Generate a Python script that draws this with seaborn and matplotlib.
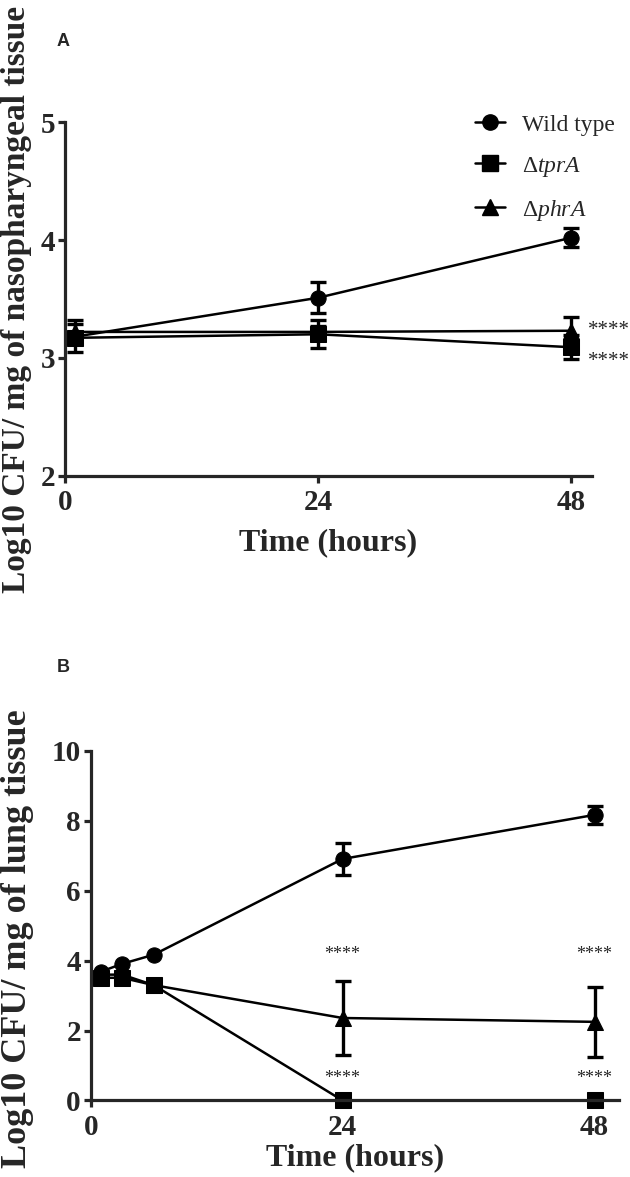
import numpy as np
import pandas as pd
import matplotlib
matplotlib.use("Agg")
import matplotlib.pyplot as plt
from matplotlib.lines import Line2D
import seaborn as sns

# ---- data: panel A (nasopharynx) ----
strains = ["Wild type", "tprA", "phrA"]
time_a = [1, 24, 48]
wt_a = [3.18, 3.51, 4.02]
wt_a_sd = [0.00, 0.13, 0.08]
tpr_a = [3.17, 3.20, 3.09]
tpr_a_sd = [0.12, 0.12, 0.10]
phr_a = [3.22, 3.22, 3.23]
phr_a_sd = [0.10, 0.05, 0.12]

# ---- data: panel B (lung) ----
time_b = [1, 3, 6, 24, 48]
wt_b = [3.69, 3.91, 4.17, 6.91, 8.17]
wt_b_sd = [0.0, 0.0, 0.0, 0.46, 0.26]
tpr_b = [3.51, 3.51, 3.30, 0.0, 0.0]
tpr_b_sd = [0.0, 0.0, 0.0, 0.0, 0.0]
phr_b = [3.60, 3.60, 3.30, 2.36, 2.25]
phr_b_sd = [0.0, 0.0, 0.0, 1.06, 1.00]

legend_labels = ["Wild type", "Δ$\\mathit{tprA}$", "Δ$\\mathit{phrA}$"]
marker_map = {"Wild type": "o", "tprA": "s", "phrA": "^"}

sns.set_style("ticks")
plt.rcParams["font.family"] = ["Liberation Serif", "DejaVu Serif"]
plt.rcParams["mathtext.fontset"] = "custom"
plt.rcParams["mathtext.rm"] = "Liberation Serif"
plt.rcParams["mathtext.it"] = "Liberation Serif:italic"


def long_frame(t, series):
    rows = []
    for name, vals, sds in series:
        for x, y, s in zip(t, vals, sds):
            rows.append({"time": x, "cfu": y, "sd": s, "strain": name})
    return pd.DataFrame(rows)


def draw_panel(ax, df):
    sns.lineplot(data=df, x="time", y="cfu", style="strain", markers=marker_map,
                 dashes=False, color="black", linewidth=1.8, markersize=11,
                 markeredgecolor="black", errorbar=None, legend=False, ax=ax)
    for line in ax.lines:
        line.set_clip_on(False)
    for name in strains:
        d = df[(df["strain"] == name) & (df["sd"] > 0)]
        ax.errorbar(d["time"], d["cfu"], yerr=d["sd"], fmt="none", ecolor="black",
                    elinewidth=2.4, capsize=5.5, capthick=2.4, clip_on=False)
    sns.despine(ax=ax)
    for sp in ["left", "bottom"]:
        ax.spines[sp].set_linewidth(2.3)
    ax.tick_params(axis="both", width=2.3, length=5, labelsize=21)
    ax.tick_params(axis="y", pad=2)
    ax.tick_params(axis="x", pad=5)
    for lab in ax.get_xticklabels() + ax.get_yticklabels():
        lab.set_fontweight("bold")


fig = plt.figure(figsize=(6.3, 11.77), dpi=100)

# Panel A
ax1 = fig.add_axes([0.103, 0.596, 0.837, 0.300])
df_a = long_frame(time_a, [("Wild type", wt_a, wt_a_sd), ("tprA", tpr_a, tpr_a_sd),
                           ("phrA", phr_a, phr_a_sd)])
draw_panel(ax1, df_a)
ax1.set_xlim(0, 50)
ax1.set_ylim(2, 5)
ax1.set_xticks([0, 24, 48])
ax1.set_yticks([2, 3, 4, 5])
ax1.set_xlabel("Time (hours)", fontsize=23, fontweight="bold")
ax1.set_ylabel("Log10 CFU/ mg of nasopharyngeal tissue", fontsize=24, fontweight="bold")
ax1.yaxis.set_label_coords(-0.063, 0.50)
ax1.xaxis.set_label_coords(0.5, -0.15)
ax1.text(49.6, 3.19, "****", fontsize=15, ha="left", va="baseline")
ax1.text(49.6, 2.93, "****", fontsize=15, ha="left", va="baseline")

handles = [Line2D([], [], color="black", linewidth=1.8, marker=marker_map[s],
                  markersize=11) for s in strains]
ax1.legend(handles, legend_labels, frameon=False, fontsize=17, loc="upper left",
           bbox_to_anchor=(0.736, 0.913), bbox_transform=fig.transFigure,
           borderpad=0, handlelength=1.25, handletextpad=0.7, labelspacing=0.8)
fig.text(0.100, 0.965, "A", fontsize=13, fontweight="bold",
         family="Liberation Sans", ha="center", va="center")

# Panel B
ax2 = fig.add_axes([0.144, 0.065, 0.838, 0.297])
df_b = long_frame(time_b, [("Wild type", wt_b, wt_b_sd), ("tprA", tpr_b, tpr_b_sd),
                           ("phrA", phr_b, phr_b_sd)])
draw_panel(ax2, df_b)
ax2.set_xlim(0, 50.3)
ax2.set_ylim(0, 10)
ax2.set_xticks([0, 24, 48])
ax2.set_yticks([0, 2, 4, 6, 8, 10])
ax2.set_xlabel("Time (hours)", fontsize=23, fontweight="bold")
ax2.set_ylabel("Log10 CFU/ mg of lung tissue", fontsize=26, fontweight="bold")
ax2.yaxis.set_label_coords(-0.108, 0.463)
ax2.xaxis.set_label_coords(0.5, -0.122)
for x in [24, 48]:
    ax2.text(x, 4.06, "****", fontsize=13, ha="center", va="baseline")
    ax2.text(x, 0.49, "****", fontsize=13, ha="center", va="baseline")
fig.text(0.100, 0.433, "B", fontsize=13, fontweight="bold",
         family="Liberation Sans", ha="center", va="center")

fig.savefig("out.png", dpi=100)
